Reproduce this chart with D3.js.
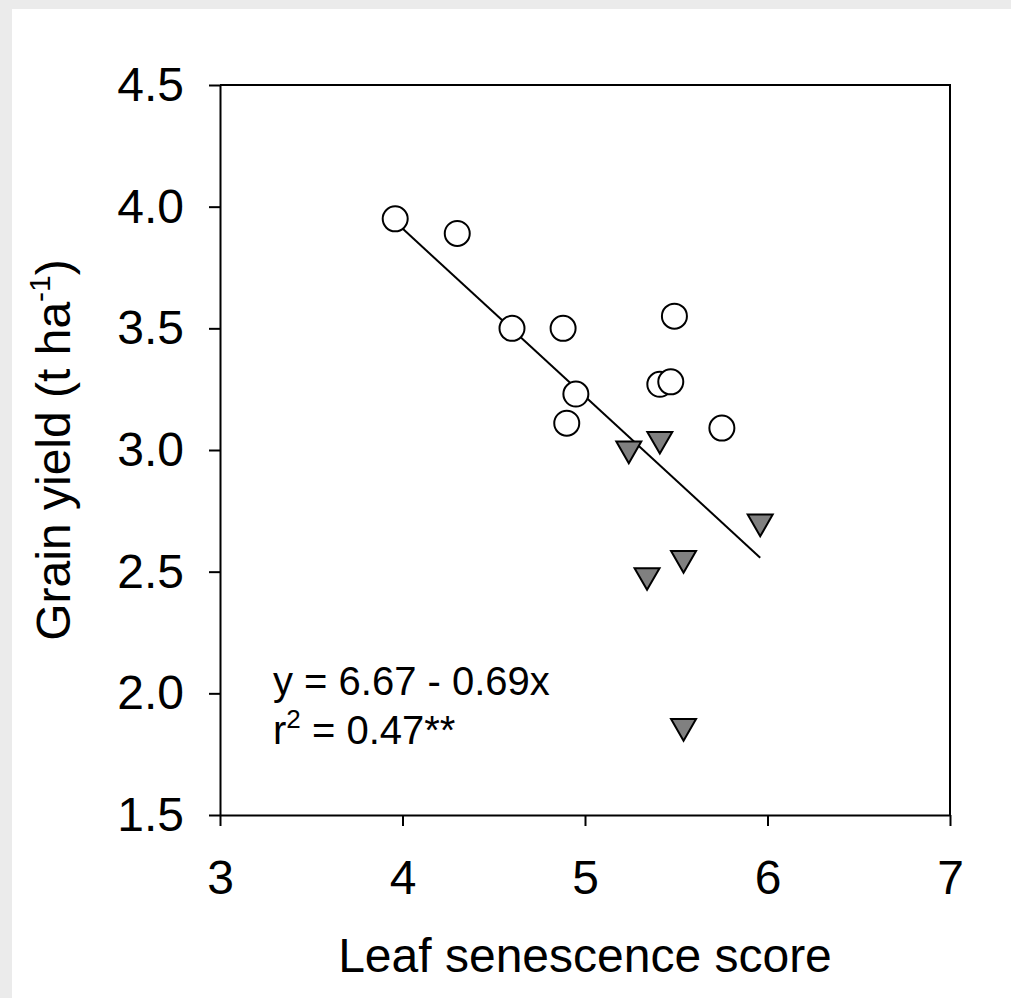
<!DOCTYPE html>
<html>
<head>
<meta charset="utf-8">
<script src="https://cdn.jsdelivr.net/npm/d3@7"></script>
<style>
  body { margin: 0; background: #ebebeb; }
  svg { display: block; font-family: "Liberation Sans", Arial, sans-serif; }
</style>
</head>
<body>
<svg id="chart"></svg>
<script>
// open circles
const circleX = [3.96, 4.30, 4.60, 4.88, 4.95, 4.90, 5.41, 5.47, 5.49, 5.75];
const circleY = [3.95, 3.89, 3.50, 3.50, 3.23, 3.11, 3.27, 3.28, 3.55, 3.09];
// grey triangles
const triX = [5.24, 5.41, 5.96, 5.54, 5.34, 5.54];
const triY = [2.99, 3.03, 2.69, 2.54, 2.47, 1.85];

const xTicks = [3, 4, 5, 6, 7];
const yTicks = [1.5, 2.0, 2.5, 3.0, 3.5, 4.0, 4.5];

const intercept = 6.67;
const slope = -0.69;
const r2 = 0.47;

const width = 1011, height = 998;
const marginLeft = 220, marginRight = 61, marginTop = 85, marginBottom = 183;

const x = d3.scaleLinear([3, 7], [marginLeft, width - marginRight]);
const y = d3.scaleLinear([1.5, 4.5], [height - marginBottom, marginTop]);

const svg = d3.select("#chart")
  .attr("width", width)
  .attr("height", height)
  .attr("viewBox", [0, 0, width, height]);

svg.append("rect").attr("width", width).attr("height", height).attr("fill", "#ebebeb");
svg.append("rect").attr("x", 12).attr("y", 9)
  .attr("width", width - 12).attr("height", height - 9).attr("fill", "#fff");

// оси
const gx = svg.append("g")
  .attr("transform", `translate(0,${y(1.5)})`)
  .call(d3.axisBottom(x).tickValues(xTicks).tickFormat(d3.format("d"))
    .tickSize(11).tickSizeOuter(0).tickPadding(34));
const gy = svg.append("g")
  .attr("transform", `translate(${x(3)},0)`)
  .call(d3.axisLeft(y).tickValues(yTicks).tickFormat(d3.format(".1f"))
    .tickSize(11).tickSizeOuter(0).tickPadding(25));

[gx, gy].forEach(g => {
  g.selectAll("path, line").attr("stroke", "#000").attr("stroke-width", 2);
  g.selectAll("text").attr("fill", "#000").style("font-size", "48px")
    .style("font-family", "'Liberation Sans', Arial, sans-serif");
});

// рамка сверху и справа
svg.append("path")
  .attr("d", `M${x(3)},${y(4.5)}H${x(7)}V${y(1.5)}`)
  .attr("fill", "none").attr("stroke", "#000").attr("stroke-width", 2);

// линия регрессии
const allX = circleX.concat(triX);
const line = d3.line().x(d => x(d)).y(d => y(intercept + slope * d));
svg.append("path")
  .datum(d3.extent(allX))
  .attr("d", line)
  .attr("fill", "none").attr("stroke", "#000").attr("stroke-width", 2);

// треугольник вершиной вниз, центр по рамке
const triDown = {
  draw(ctx, size) {
    const s = Math.sqrt(size / (Math.sqrt(3) / 4));
    const h = s * Math.sqrt(3) / 2;
    ctx.moveTo(-s / 2, -h / 2);
    ctx.lineTo(s / 2, -h / 2);
    ctx.lineTo(0, h / 2);
    ctx.closePath();
  }
};

svg.append("g").selectAll("path")
  .data(d3.range(triX.length))
  .join("path")
  .attr("transform", i => `translate(${x(triX[i])},${y(triY[i])})`)
  .attr("d", d3.symbol(triDown, 270))
  .attr("fill", "#808080").attr("stroke", "#000").attr("stroke-width", 2);

svg.append("g").selectAll("circle")
  .data(d3.range(circleX.length))
  .join("circle")
  .attr("cx", i => x(circleX[i]))
  .attr("cy", i => y(circleY[i]))
  .attr("r", 12.5)
  .attr("fill", "#fff").attr("stroke", "#000").attr("stroke-width", 2);

// уравнение
const eq = svg.append("g").style("font-size", "40px").attr("fill", "#000");
eq.append("text").attr("x", 273).attr("y", 695)
  .text(`y = ${intercept.toFixed(2)} - ${Math.abs(slope).toFixed(2)}x`);
const rt = eq.append("text").attr("x", 273).attr("y", 744);
rt.append("tspan").text("r");
rt.append("tspan").attr("dy", -16).style("font-size", "26px").text("2");
rt.append("tspan").attr("dy", 16).text(` = ${r2.toFixed(2)}**`);

// подписи осей
svg.append("text")
  .attr("x", (x(3) + x(7)) / 2).attr("y", 972)
  .attr("text-anchor", "middle").style("font-size", "48px")
  .text("Leaf senescence score");

const yt = svg.append("text")
  .attr("transform", `translate(70,${(y(1.5) + y(4.5)) / 2}) rotate(-90)`)
  .attr("text-anchor", "middle").style("font-size", "48px");
yt.append("tspan").text("Grain yield (t ha");
yt.append("tspan").attr("dy", -20).style("font-size", "30px").text("-1");
yt.append("tspan").attr("dy", 20).text(")");
</script>
</body>
</html>
